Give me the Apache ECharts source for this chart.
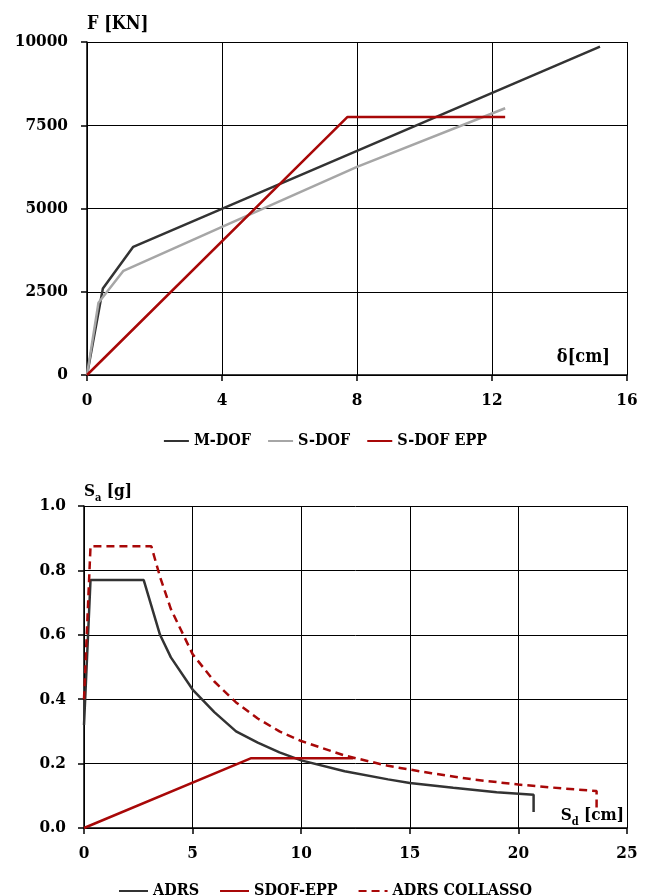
<!DOCTYPE html>
<html>
<head>
<meta charset="utf-8">
<script src="https://cdn.jsdelivr.net/npm/echarts@6/dist/echarts.min.js"></script>
<style>
html,body{margin:0;padding:0;background:#fff;}
#chart{width:650px;height:895px;}
</style>
</head>
<body>
<div id="chart"></div>
<script>
// pushover curves (top)
const mdofX = [0, 0.47, 1.37, 15.2];
const mdofF = [0, 2600, 3850, 9860];
const sdofX = [0, 0.34, 1.08, 4, 8, 12.39];
const sdofF = [0, 2170, 3130, 4450, 6250, 8010];
const eppX = [0, 7.72, 12.39];
const eppF = [0, 7750, 7750];
const topXTicks = [0, 4, 8, 12, 16];
const topYTicks = [0, 2500, 5000, 7500, 10000];

// ADRS (bottom)
const adrsSd = [0, 0.3, 2.75, 3.5, 4, 5, 6, 7, 8, 9, 10, 12, 14, 15, 17, 19, 20.7, 20.7];
const adrsSa = [0.32, 0.77, 0.77, 0.6, 0.53, 0.43, 0.36, 0.30, 0.265, 0.235, 0.21, 0.176, 0.151, 0.14, 0.125, 0.111, 0.103, 0.05];
const sdofEppSd = [0, 7.7, 12.4];
const sdofEppSa = [0, 0.217, 0.217];
const collSd = [0, 0.3, 3.1, 3.5, 4, 5, 6, 7, 8, 9, 10, 12, 14, 16, 18, 20, 22, 23.6, 23.6];
const collSa = [0.4, 0.875, 0.875, 0.78, 0.68, 0.54, 0.455, 0.39, 0.34, 0.30, 0.27, 0.225, 0.193, 0.17, 0.15, 0.135, 0.123, 0.115, 0.055];
const botXTicks = [0, 5, 10, 15, 20, 25];
const botYTicks = [0, 0.2, 0.4, 0.6, 0.8, 1.0];

const FONT = "'DejaVu Serif Condensed', 'Liberation Serif', serif";
const DARK = '#333333', GRAY = '#a6a6a6', RED = '#a80808';

function pairs(xs, ys){
    return xs.map((x, i) => [x, ys[i]]);
}

function valueAxis(gridIndex, ticks, opts){
    return Object.assign({
        type: 'value',
        gridIndex: gridIndex,
        min: ticks[0],
        max: ticks[ticks.length - 1],
        interval: ticks[1] - ticks[0],
        axisLine: {show: true, onZero: false, lineStyle: {color: '#000', width: 1.5}},
        axisTick: {show: true, inside: false, length: 6, lineStyle: {color: '#000', width: 1.5}},
        splitLine: {show: true, lineStyle: {color: '#000', width: 1}},
        axisLabel: {color: '#000', fontFamily: FONT, fontWeight: 'bold', fontSize: 17}
    }, opts);
}

const subRich = {
    b: {fontFamily: FONT, fontWeight: 'bold', fontSize: 17, color: '#000', verticalAlign: 'top'},
    s: {fontFamily: FONT, fontWeight: 'bold', fontSize: 11, color: '#000', verticalAlign: 'bottom', padding: [10, 0, 0, 0]}
};

const legendText = {fontFamily: FONT, fontWeight: 'bold', fontSize: 16, color: '#000'};
const tickFont = {color: '#000', fontFamily: FONT, fontWeight: 'bold', fontSize: 17};

const chart = echarts.init(document.getElementById('chart'), null, {renderer: 'canvas'});

chart.setOption({
    backgroundColor: '#fff',
    animation: false,
    grid: [
        {left: 87, right: 23, top: 42, height: 333},
        {left: 84, right: 23, top: 506, height: 322}
    ],
    legend: [
        {
            top: 428, left: 'center',
            itemWidth: 25, itemHeight: 12, itemGap: 16,
            itemStyle: {opacity: 0},
            textStyle: legendText,
            data: ['M-DOF', 'S-DOF', 'S-DOF EPP']
        },
        {
            top: 878, left: 'center',
            itemWidth: 29, itemHeight: 12, itemGap: 20,
            itemStyle: {opacity: 0},
            textStyle: legendText,
            data: ['ADRS', 'SDOF-EPP', 'ADRS COLLASSO']
        }
    ],
    xAxis: [
        valueAxis(0, topXTicks, {
            name: 'δ[cm]', nameLocation: 'end', nameGap: -17,
            nameTextStyle: {fontFamily: FONT, fontWeight: 'bold', fontSize: 18, color: '#000',
                align: 'right', verticalAlign: 'bottom', padding: [0, 0, 9, 0]},
            axisLabel: Object.assign({margin: 17}, tickFont)
        }),
        valueAxis(1, botXTicks, {
            name: '{b|S}{s|d}{b| [cm]}', nameLocation: 'end', nameGap: -3,
            nameTextStyle: {color: '#000', align: 'right', verticalAlign: 'bottom', padding: [0, 0, 0, 0], rich: subRich},
            axisLabel: Object.assign({margin: 17}, tickFont)
        })
    ],
    yAxis: [
        valueAxis(0, topYTicks, {
            name: 'F [KN]', nameLocation: 'end', nameGap: 9,
            nameTextStyle: {fontFamily: FONT, fontWeight: 'bold', fontSize: 18, color: '#000', align: 'left'},
            axisLabel: Object.assign({margin: 19, formatter: v => String(v)}, tickFont)
        }),
        valueAxis(1, botYTicks, {
            name: '{b|S}{s|a}{b| [g]}', nameLocation: 'end', nameGap: 2,
            nameTextStyle: {color: '#000', align: 'left', rich: subRich},
            axisLabel: Object.assign({margin: 18, formatter: v => v.toFixed(1)}, tickFont)
        })
    ],
    series: [
        {name: 'M-DOF', type: 'line', xAxisIndex: 0, yAxisIndex: 0, symbol: 'none',
            data: pairs(mdofX, mdofF), lineStyle: {color: DARK, width: 2.5}, itemStyle: {color: DARK}},
        {name: 'S-DOF', type: 'line', xAxisIndex: 0, yAxisIndex: 0, symbol: 'none',
            data: pairs(sdofX, sdofF), lineStyle: {color: GRAY, width: 2.5}, itemStyle: {color: GRAY}},
        {name: 'S-DOF EPP', type: 'line', xAxisIndex: 0, yAxisIndex: 0, symbol: 'none',
            data: pairs(eppX, eppF), lineStyle: {color: RED, width: 2.5}, itemStyle: {color: RED}},
        {name: 'ADRS', type: 'line', xAxisIndex: 1, yAxisIndex: 1, symbol: 'none',
            data: pairs(adrsSd, adrsSa), lineStyle: {color: DARK, width: 2.5}, itemStyle: {color: DARK}},
        {name: 'SDOF-EPP', type: 'line', xAxisIndex: 1, yAxisIndex: 1, symbol: 'none',
            data: pairs(sdofEppSd, sdofEppSa), lineStyle: {color: RED, width: 2.5}, itemStyle: {color: RED}},
        {name: 'ADRS COLLASSO', type: 'line', xAxisIndex: 1, yAxisIndex: 1, symbol: 'none',
            data: pairs(collSd, collSa), lineStyle: {color: RED, width: 2.5, type: [8, 5]}, itemStyle: {color: RED}}
    ]
});
</script>
</body>
</html>
